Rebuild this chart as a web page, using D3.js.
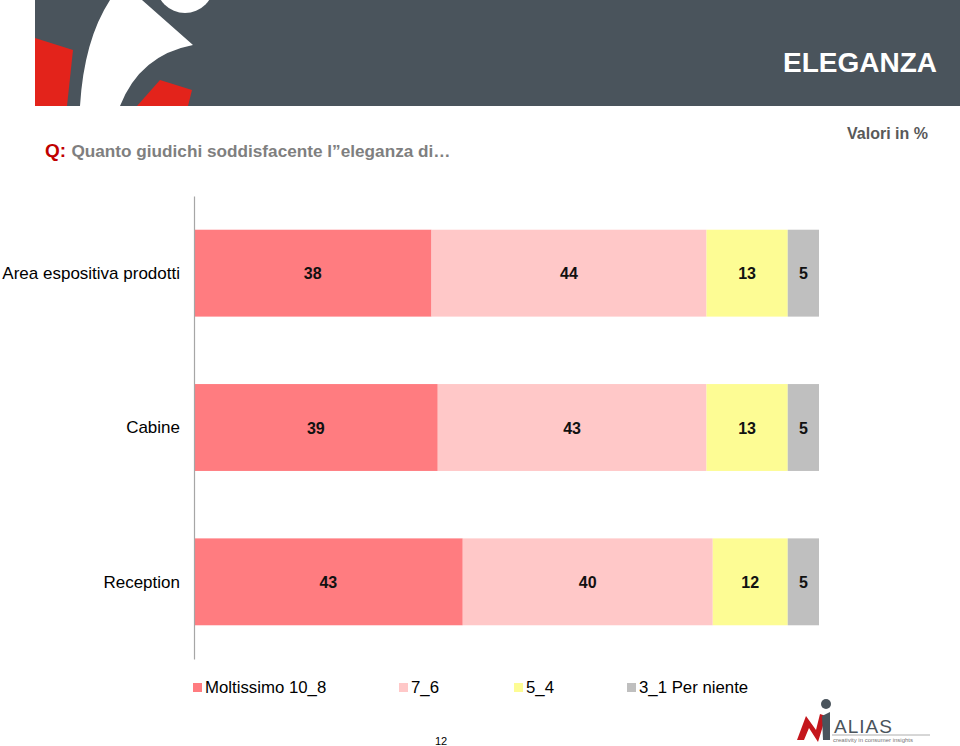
<!DOCTYPE html>
<html><head><meta charset="utf-8">
<script src="https://cdn.jsdelivr.net/npm/d3@7"></script>
<style>body{margin:0;background:#fff;}svg{display:block;font-family:"Liberation Sans",Arial,sans-serif;}</style>
</head><body>
<script>
const categories = ["Area espositiva prodotti", "Cabine", "Reception"];
const seriesNames = ["Moltissimo 10_8", "7_6", "5_4", "3_1 Per niente"];
const seriesColors = ["#ff7c80", "#ffc8c8", "#fdfc94", "#bfbfbf"];
const moltissimo = [38, 39, 43];
const s76 = [44, 43, 40];
const s54 = [13, 13, 12];
const perNiente = [5, 5, 5];
const seriesValues = [moltissimo, s76, s54, perNiente];

const W = 960, H = 746;
const svg = d3.select("body").append("svg").attr("width", W).attr("height", H);

// header band
svg.append("rect").attr("x", 35).attr("y", 0).attr("width", W - 35).attr("height", 106).attr("fill", "#4a545c");
const hdr = svg.append("g");
hdr.append("path").attr("d", "M35,38 L73,50 L67,106 L35,106 Z").attr("fill", "#e3231b");
hdr.append("path").attr("d", "M160,80 L192,90 L188,106 L137,106 Z").attr("fill", "#e3231b");
hdr.append("path").attr("d", "M110,0 L142,0 L193,45 Q140,55 120,106 L80,106 Q84,40 110,0 Z").attr("fill", "#ffffff");
hdr.append("circle").attr("cx", 185).attr("cy", -16).attr("r", 29).attr("fill", "#ffffff");
svg.append("text").attr("x", 937).attr("y", 72).attr("text-anchor", "end").attr("fill", "#fff")
  .attr("font-weight", "bold").attr("font-size", 28).text("ELEGANZA");

svg.append("text").attr("x", 928).attr("y", 139).attr("text-anchor", "end").attr("fill", "#595959")
  .attr("font-weight", "bold").attr("font-size", 16).text("Valori in %");
const q = svg.append("text").attr("x", 45).attr("y", 157).attr("font-weight", "bold");
q.append("tspan").attr("fill", "#c00000").attr("font-size", 19).text("Q: ");
q.append("tspan").attr("fill", "#7f7f7f").attr("font-size", 17.2).text("Quanto giudichi soddisfacente l\u201Deleganza di\u2026");

// chart
const x = d3.scaleLinear().domain([0, 100]).range([194, 819]);
const y = d3.scaleBand().domain(categories).range([196, 659]).paddingInner(0.437).paddingOuter(0.2185);

const stackData = categories.map((c, i) => {
  const o = { cat: c };
  seriesNames.forEach((s, j) => o[s] = seriesValues[j][i]);
  return o;
});
const stack = d3.stack().keys(seriesNames)(stackData);

stack.forEach((layer, j) => {
  const g = svg.append("g");
  g.selectAll("rect").data(layer).join("rect")
    .attr("x", d => x(d[0])).attr("y", d => y(d.data.cat))
    .attr("width", d => x(d[1]) - x(d[0])).attr("height", y.bandwidth())
    .attr("fill", seriesColors[j]);
  g.selectAll("text").data(layer).join("text")
    .attr("x", d => (x(d[0]) + x(d[1])) / 2).attr("y", d => y(d.data.cat) + y.bandwidth() / 2 + 6)
    .attr("text-anchor", "middle").attr("font-weight", "bold").attr("font-size", 16).attr("fill", "#111")
    .text(d => d[1] - d[0]);
});

// axis
const ax = svg.append("g").attr("transform", "translate(194,0)").call(d3.axisLeft(y).tickSize(0).tickPadding(14));
ax.select(".domain").attr("stroke", "#a6a6a6").attr("stroke-width", 1.2);
ax.selectAll("text").attr("font-size", 17).attr("fill", "#000").attr("font-family", "Liberation Sans, Arial, sans-serif").attr("dy", "0.35em");

// legend
const legX = [193, 399, 514, 627];
const leg = svg.append("g");
seriesNames.forEach((s, j) => {
  leg.append("rect").attr("x", legX[j]).attr("y", 683).attr("width", 9).attr("height", 9).attr("fill", seriesColors[j]);
  leg.append("text").attr("x", legX[j] + 12).attr("y", 693).attr("font-size", 16.8).attr("fill", "#000").text(s);
});

svg.append("text").attr("x", 441).attr("y", 745).attr("text-anchor", "middle").attr("font-size", 11).attr("fill", "#000").text("12");

// ALIAS logo
const lg = svg.append("g");
lg.append("path").attr("d", "M797,740 L806,716 L816,730 L820,714 L826,716 L818,742 L809,728 L804,740 Z").attr("fill", "#c4161c");
lg.append("path").attr("d", "M822,716 L830,712 L830,740 L823,740 Z").attr("fill", "#4a545c");
lg.append("circle").attr("cx", 826).attr("cy", 704).attr("r", 5).attr("fill", "#4a545c");
lg.append("text").attr("x", 834).attr("y", 733).attr("font-size", 19).attr("fill", "#4a545c").attr("letter-spacing", 1).text("ALIAS");
lg.append("line").attr("x1", 832).attr("x2", 930).attr("y1", 735).attr("y2", 735).attr("stroke", "#999").attr("stroke-width", 0.8);
lg.append("text").attr("x", 833).attr("y", 742).attr("font-size", 6).attr("fill", "#777").text("creativity in consumer insights");
</script>
</body></html>
